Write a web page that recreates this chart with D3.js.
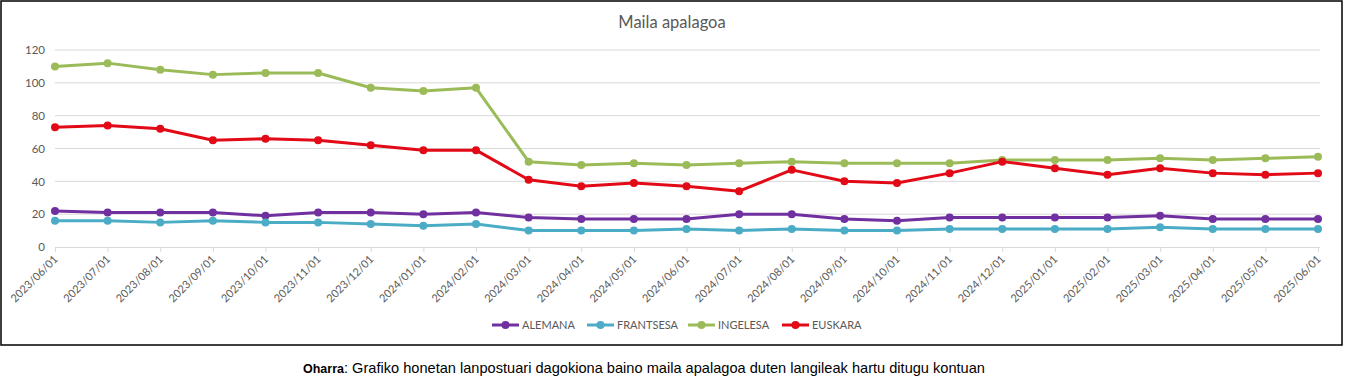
<!DOCTYPE html>
<html>
<head>
<meta charset="utf-8">
<script src="https://cdn.jsdelivr.net/npm/d3@7/dist/d3.min.js"></script>
<style>
  html, body { margin: 0; padding: 0; background: #fff; }
  svg { display: block; }
</style>
</head>
<body>
<svg id="chart" width="1345" height="387"></svg>
<script>
const categories = ["2023/06/01","2023/07/01","2023/08/01","2023/09/01","2023/10/01","2023/11/01","2023/12/01",
  "2024/01/01","2024/02/01","2024/03/01","2024/04/01","2024/05/01","2024/06/01","2024/07/01","2024/08/01",
  "2024/09/01","2024/10/01","2024/11/01","2024/12/01","2025/01/01","2025/02/01","2025/03/01","2025/04/01",
  "2025/05/01","2025/06/01"];
const alemana   = [22,21,21,21,19,21,21,20,21,18,17,17,17,20,20,17,16,18,18,18,18,19,17,17,17];
const frantsesa = [16,16,15,16,15,15,14,13,14,10,10,10,11,10,11,10,10,11,11,11,11,12,11,11,11];
const ingelesa  = [110,112,108,105,106,106,97,95,97,52,50,51,50,51,52,51,51,51,53,53,53,54,53,54,55];
const euskara   = [73,74,72,65,66,65,62,59,59,41,37,39,37,34,47,40,39,45,52,48,44,48,45,44,45];
const seriesNames = ["ALEMANA","FRANTSESA","INGELESA","EUSKARA"];
const yTicks = [0,20,40,60,80,100,120];
const title = "Maila apalagoa";
const noteBold = "Oharra";
const noteText = ": Grafiko honetan lanpostuari dagokiona baino maila apalagoa duten langileak hartu ditugu kontuan";

const colors = ["#7030a0", "#4bacc6", "#9bbb59", "#e20a16"];
const seriesData = [alemana, frantsesa, ingelesa, euskara];
const series = seriesNames.map((n, i) => ({ name: n, values: seriesData[i], color: colors[i] }));

const svg = d3.select("#chart");

// outer border
svg.append("rect").attr("x", 1).attr("y", 1).attr("width", 1341).attr("height", 344)
  .attr("fill", "#fff").attr("stroke", "#000").attr("stroke-width", 1.5);

const x = d3.scalePoint().domain(categories).range([55, 1318]);
const y = d3.scaleLinear().domain([0, 120]).range([247, 50]);

// title
svg.append("text").attr("x", 672).attr("y", 28).attr("text-anchor", "middle")
  .attr("font-family", "Lato, 'Open Sans', sans-serif").attr("font-size", 16.5)
  .attr("fill", "#595959").text(title);

// grid
const grid = svg.append("g");
grid.selectAll("line").data(yTicks.filter(d => d > 0)).join("line")
  .attr("x1", 55).attr("x2", 1320).attr("y1", d => y(d)).attr("y2", d => y(d))
  .attr("stroke", "#d9d9d9").attr("stroke-width", 1);

// y axis labels
const yAxis = d3.axisLeft(y).tickValues(yTicks).tickSize(0).tickPadding(10);
const gy = svg.append("g").attr("transform", "translate(55,0)").call(yAxis);
gy.select(".domain").remove();
gy.selectAll("text").attr("font-family", "Lato, 'Open Sans', sans-serif").attr("font-size", 11.5).attr("fill", "#595959");

// x axis
const xAxis = d3.axisBottom(x).tickSize(5).tickPadding(4);
const gx = svg.append("g").attr("transform", `translate(0,${y(0)})`).call(xAxis);
gx.select(".domain").attr("stroke", "#d9d9d9").attr("d", "M55,0.5H1320");
gx.selectAll(".tick line").attr("stroke", "#d9d9d9");
gx.selectAll("text")
  .attr("font-family", "Lato, 'Open Sans', sans-serif").attr("font-size", 11).attr("fill", "#595959")
  .attr("text-anchor", "end").attr("dy", null).attr("y", 0).attr("x", 0)
  .attr("transform", "translate(1,11) rotate(-45)")
  .attr("dominant-baseline", "middle");

// lines
const line = d3.line().x((d, i) => x(categories[i])).y(d => y(d));
const gl = svg.append("g");
series.forEach(s => {
  gl.append("path").datum(s.values).attr("d", line).attr("fill", "none")
    .attr("stroke", s.color).attr("stroke-width", 3).attr("stroke-linejoin", "round");
  gl.append("g").selectAll("circle").data(s.values).join("circle")
    .attr("cx", (d, i) => x(categories[i])).attr("cy", d => y(d)).attr("r", 4)
    .attr("fill", s.color);
});

// legend
const legendX = [492, 587, 688, 782];
const leg = svg.append("g");
series.forEach((s, i) => {
  const g = leg.append("g").attr("transform", `translate(${legendX[i]},325)`);
  g.append("line").attr("x1", 0).attr("x2", 27).attr("y1", 0).attr("y2", 0)
    .attr("stroke", s.color).attr("stroke-width", 3);
  g.append("circle").attr("cx", 13.5).attr("cy", 0).attr("r", 4).attr("fill", s.color);
  g.append("text").attr("x", 30).attr("y", 4).attr("font-family", "Lato, 'Open Sans', sans-serif")
    .attr("font-size", 11).attr("fill", "#595959").text(s.name);
});

// footnote
const note = svg.append("text").attr("x", 303).attr("y", 373)
  .attr("font-family", "'Liberation Sans', Arial, sans-serif").attr("font-size", 14.6).attr("fill", "#000");
note.append("tspan").attr("font-weight", "bold").attr("font-size", 12.5).text(noteBold);
note.append("tspan").text(noteText);
</script>
</body>
</html>
